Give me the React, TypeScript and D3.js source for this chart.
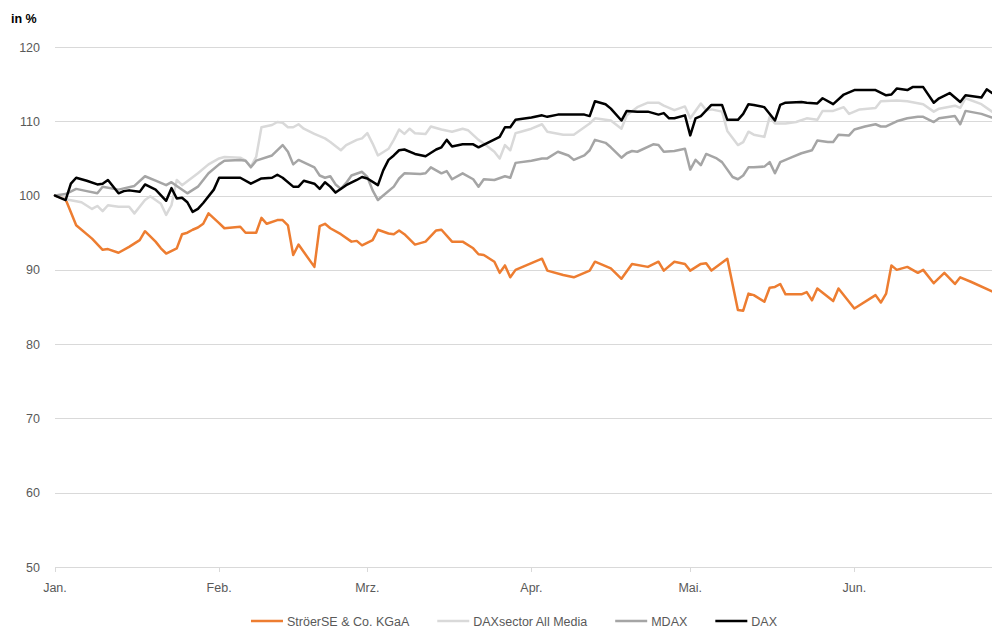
import React, { useEffect, useRef } from 'react';
import { select, scaleTime, scaleLinear, line, timeMonth } from 'd3';

const WIDTH = 992;
const HEIGHT = 627;
const PLOT = { left: 55, right: 992, top: 47, bottom: 567 };

const YEAR = 2019;
const LAST_DAY = 177;
const MONTH_LABELS = ['Jan.', 'Feb.', 'Mrz.', 'Apr.', 'Mai.', 'Jun.'];
const Y_TICKS = [50, 60, 70, 80, 90, 100, 110, 120];

// [days since Jan 1, indexed value in %]
const STROEER = [
  [0, 100], [2, 99.5], [4, 96], [7, 94.2], [9, 92.7], [10, 92.8], [12, 92.3], [14, 93.1], [16, 94], [17, 95.2],
  [19, 93.8], [20, 92.9], [21, 92.2], [23, 92.9], [24, 94.8], [25, 95], [26, 95.4], [27, 95.7], [28, 96.2], [29, 97.6],
  [31, 96.3], [32, 95.6], [35, 95.8], [36, 95], [38, 95], [39, 97], [40, 96.2], [42, 96.7], [43, 96.7], [44, 96],
  [45, 92], [46, 93.4], [49, 90.4], [50, 95.9], [51, 96.2], [52, 95.6], [54, 94.8], [56, 93.8], [57, 93.9], [58, 93.3],
  [60, 94], [61, 95.4], [63, 94.9], [64, 94.8], [65, 95.3], [66, 94.8], [68, 93.4], [70, 93.8], [72, 95.3], [73, 95.4],
  [75, 93.8], [77, 93.8], [79, 92.9], [80, 92.1], [81, 92], [83, 91.1], [84, 89.6], [85, 90.6], [86, 89], [87, 90],
  [92, 91.5], [93, 89.9], [96, 89.3], [98, 89], [101, 89.9], [102, 91.1], [105, 90.2], [107, 88.8], [109, 90.8], [112, 90.4],
  [114, 91.1], [115, 89.9], [117, 91.1], [119, 90.8], [120, 89.9], [122, 90.8], [123, 90.9], [124, 89.9], [127, 91.5], [129, 84.6],
  [130, 84.5], [131, 86.8], [132, 86.6], [134, 85.7], [135, 87.6], [136, 87.7], [137, 88.1], [138, 86.7], [141, 86.7], [142, 87],
  [143, 85.9], [144, 87.5], [147, 85.8], [148, 87.5], [151, 84.8], [155, 86.6], [156, 85.6], [157, 86.8], [158, 90.6], [159, 90],
  [161, 90.4], [163, 89.6], [164, 90], [166, 88.2], [168, 89.6], [170, 88.1], [171, 89], [173, 88.4], [177, 87.1],
];

const MEDIA = [
  [0, 100], [2, 99.5], [5, 99.1], [7, 98.2], [8, 98.6], [9, 97.9], [10, 98.7], [12, 98.5], [14, 98.5], [15, 97.6],
  [17, 99.4], [18, 99.9], [20, 98.9], [21, 97.4], [22, 98.7], [23, 102.1], [24, 101.4], [27, 103], [29, 104.2], [31, 105],
  [32, 105.2], [35, 105.1], [36, 104.7], [37, 103.9], [38, 105.2], [39, 109.2], [41, 109.5], [42, 109.9], [43, 109.8], [44, 109.2],
  [45, 109.2], [46, 109.6], [47, 109], [49, 108.3], [51, 107.7], [52, 107.2], [54, 106.1], [55, 106.8], [57, 107.5], [58, 107.7],
  [59, 108.4], [60, 107], [61, 105.4], [63, 106.3], [64, 107.5], [65, 108.9], [66, 108.3], [67, 109], [68, 108.4], [70, 108.3],
  [71, 109.3], [73, 108.9], [75, 108.6], [77, 109], [78, 108.8], [80, 107.5], [81, 107], [83, 105.9], [84, 105], [85, 106.8],
  [86, 106.1], [87, 108.4], [88, 108.6], [90, 109], [92, 109.6], [93, 108.6], [96, 108.2], [98, 108.2], [100, 109.2], [101, 109.7],
  [102, 110.4], [104, 110.2], [105, 110.1], [107, 109], [108, 110.8], [110, 111.9], [112, 112.5], [114, 112.5], [115, 112.1], [117, 111.5],
  [119, 112], [120, 110.4], [122, 112.4], [123, 111.5], [124, 111.6], [126, 111.3], [127, 108.7], [129, 106.8], [130, 107.2], [131, 108.6],
  [132, 108.2], [134, 107.9], [135, 110.6], [136, 109.7], [138, 109.7], [140, 109.9], [142, 110.4], [144, 110.2], [145, 111.4], [147, 111.4],
  [149, 111.9], [150, 111], [152, 111.6], [155, 111.8], [156, 112.7], [159, 112.8], [161, 112.7], [164, 112.3], [166, 111.3], [167, 111.7],
  [170, 112.1], [171, 111.8], [172, 113.1], [175, 112.3], [177, 111.3],
];

const MDAX = [
  [0, 100], [2, 100.2], [4, 100.9], [6, 100.6], [8, 100.3], [9, 101.2], [12, 100.8], [15, 101.3], [17, 102.6], [19, 102],
  [21, 101.4], [22, 101.8], [23, 101.3], [25, 100.3], [27, 101.2], [29, 103], [31, 104.2], [32, 104.7], [35, 104.8], [36, 104.7],
  [37, 103.8], [38, 104.7], [41, 105.4], [43, 106.8], [44, 105.9], [45, 104.2], [46, 104.8], [49, 103.8], [50, 102.7], [51, 102.4],
  [52, 102.6], [53, 101.5], [54, 100.9], [55, 101.7], [56, 102.7], [58, 103.2], [59, 102.5], [60, 100.7], [61, 99.4], [62, 100],
  [64, 101.2], [65, 102.3], [66, 103], [69, 102.9], [70, 103], [71, 103.8], [73, 103], [74, 103.3], [75, 102.2], [77, 103],
  [79, 102.2], [80, 101.2], [81, 102.2], [83, 102.1], [85, 102.6], [86, 102.4], [87, 104.4], [90, 104.7], [92, 105], [93, 105],
  [95, 105.9], [97, 105.4], [98, 104.8], [100, 105.4], [101, 106.1], [102, 107.5], [104, 107.1], [105, 106.5], [107, 105.1], [108, 105.7],
  [109, 106], [110, 105.9], [113, 106.9], [114, 106.8], [115, 105.9], [117, 106], [119, 106.3], [120, 103.5], [121, 104.8], [122, 104.1],
  [123, 105.6], [125, 105], [126, 104.5], [128, 102.5], [129, 102.2], [130, 102.7], [131, 103.8], [132, 103.8], [134, 103.9], [135, 104.5],
  [136, 103], [137, 104.5], [139, 105.1], [141, 105.7], [143, 106.1], [144, 107.4], [146, 107.2], [147, 107.2], [148, 108.2], [150, 108.1],
  [151, 108.9], [153, 109.3], [155, 109.6], [156, 109.3], [157, 109.3], [159, 110], [161, 110.4], [163, 110.6], [164, 110.6], [166, 109.9],
  [167, 110.4], [170, 110.7], [171, 109.6], [172, 111.4], [175, 111], [177, 110.5],
];

const DAX = [
  [0, 100], [2, 99.4], [3, 101.6], [4, 102.4], [6, 102], [8, 101.5], [9, 101.6], [10, 102.1], [12, 100.3], [13, 100.6],
  [14, 100.7], [16, 100.5], [17, 101.5], [19, 100.8], [21, 99.3], [22, 101], [23, 99.6], [24, 99.7], [25, 99.1], [26, 97.8],
  [27, 98.2], [28, 99], [30, 100.8], [31, 102.4], [35, 102.4], [37, 101.6], [39, 102.3], [41, 102.4], [42, 102.8], [43, 102.4],
  [45, 101.2], [46, 101.2], [47, 102], [49, 101.6], [50, 100.9], [51, 101.8], [52, 101.2], [53, 100.4], [55, 101.4], [57, 102.1],
  [58, 102.5], [59, 102.3], [61, 101.4], [62, 103.4], [63, 104.8], [64, 105.4], [65, 106.1], [66, 106.2], [68, 105.6], [70, 105.3],
  [72, 106.2], [73, 106.5], [74, 107.5], [75, 106.6], [77, 106.9], [79, 106.9], [80, 106.5], [82, 107.2], [84, 107.9], [85, 109.2],
  [86, 109.2], [87, 110.2], [90, 110.5], [92, 110.8], [93, 110.6], [95, 110.9], [100, 110.9], [101, 110.7], [102, 112.7], [104, 112.3],
  [105, 111.7], [107, 110.1], [108, 111.4], [110, 111.3], [112, 111.3], [114, 110.9], [115, 111.1], [116, 110.4], [117, 110.4], [119, 110.8],
  [120, 108.1], [121, 110.4], [122, 110.7], [124, 112.2], [126, 112.2], [127, 110.2], [129, 110.2], [130, 111], [131, 112.3], [132, 112.2],
  [134, 111.9], [136, 110.1], [137, 112.2], [138, 112.5], [141, 112.6], [142, 112.5], [144, 112.4], [145, 113.1], [147, 112.3], [149, 113.6],
  [151, 114.2], [155, 114.2], [157, 113.5], [158, 113.6], [159, 114.4], [161, 114.2], [162, 114.6], [164, 114.6], [166, 112.5], [167, 113.1],
  [169, 113.8], [171, 112.6], [172, 113.5], [174, 113.3], [175, 113.2], [176, 114.3], [177, 113.8],
];

const SERIES = [
  { name: 'StröerSE & Co. KGaA', data: STROEER, color: '#ED7D31' },
  { name: 'DAXsector All Media', data: MEDIA, color: '#D9D9D9' },
  { name: 'MDAX', data: MDAX, color: '#A5A5A5' },
  { name: 'DAX', data: DAX, color: '#000000' },
];

const FONT = '"Liberation Sans", Arial, sans-serif';
const TEXT_COLOR = '#595959';
const GRID_COLOR = '#D9D9D9';

const toDate = (day) => new Date(YEAR, 0, 1 + day);

export default function App() {
  const svgRef = useRef(null);

  useEffect(() => {
    const svg = select(svgRef.current);
    svg.selectAll('*').remove();

    const xScale = scaleTime()
      .domain([toDate(0), toDate(LAST_DAY)])
      .range([PLOT.left, PLOT.right]);
    const yScale = scaleLinear().domain([50, 120]).range([PLOT.bottom, PLOT.top]);

    // horizontal grid
    svg
      .append('g')
      .selectAll('line')
      .data(Y_TICKS)
      .enter()
      .append('line')
      .attr('x1', PLOT.left)
      .attr('x2', PLOT.right)
      .attr('y1', (d) => Math.round(yScale(d)) + 0.5)
      .attr('y2', (d) => Math.round(yScale(d)) + 0.5)
      .attr('stroke', GRID_COLOR)
      .attr('stroke-width', 1);

    svg
      .append('g')
      .selectAll('text')
      .data(Y_TICKS)
      .enter()
      .append('text')
      .attr('x', 40)
      .attr('y', (d) => yScale(d) + 4.5)
      .attr('text-anchor', 'end')
      .style('font-family', FONT)
      .style('font-size', '12.5px')
      .style('fill', TEXT_COLOR)
      .text((d) => d);

    svg
      .append('text')
      .attr('x', 11)
      .attr('y', 23)
      .style('font-family', FONT)
      .style('font-size', '12.5px')
      .style('font-weight', 'bold')
      .style('fill', '#000')
      .text('in %');

    // x axis ticks + month labels
    const months = timeMonth.range(toDate(0), toDate(LAST_DAY));
    const xAxis = svg.append('g');
    xAxis
      .selectAll('line')
      .data(months)
      .enter()
      .append('line')
      .attr('x1', (d) => Math.round(xScale(d)) + 0.5)
      .attr('x2', (d) => Math.round(xScale(d)) + 0.5)
      .attr('y1', Math.round(yScale(50)))
      .attr('y2', Math.round(yScale(50)) + 5)
      .attr('stroke', GRID_COLOR);
    xAxis
      .selectAll('text')
      .data(months)
      .enter()
      .append('text')
      .attr('x', (d) => xScale(d))
      .attr('y', 592)
      .attr('text-anchor', 'middle')
      .style('font-family', FONT)
      .style('font-size', '12.5px')
      .style('fill', TEXT_COLOR)
      .text((d, i) => MONTH_LABELS[i]);

    // series lines
    const lineGen = line()
      .x((d) => xScale(toDate(d[0])))
      .y((d) => yScale(d[1]));

    SERIES.forEach((s) => {
      svg
        .append('path')
        .datum(s.data)
        .attr('d', lineGen)
        .attr('fill', 'none')
        .attr('stroke', s.color)
        .attr('stroke-width', 2.5)
        .attr('stroke-linejoin', 'round')
        .attr('stroke-linecap', 'round');
    });

    // legend, centred below the plot
    const legend = svg.append('g');
    const items = SERIES.map((s) => {
      const g = legend.append('g');
      g.append('line')
        .attr('x1', 0)
        .attr('x2', 32)
        .attr('y1', 621)
        .attr('y2', 621)
        .attr('stroke', s.color)
        .attr('stroke-width', 2.5);
      const t = g
        .append('text')
        .attr('x', 36)
        .attr('y', 625.5)
        .style('font-family', FONT)
        .style('font-size', '12.5px')
        .style('fill', TEXT_COLOR)
        .text(s.name);
      return { g, w: 36 + t.node().getComputedTextLength() };
    });
    const gap = 28;
    const total = items.reduce((a, it) => a + it.w, 0) + gap * (items.length - 1);
    let x = 514 - total / 2;
    items.forEach((it) => {
      it.g.attr('transform', `translate(${x},0)`);
      x += it.w + gap;
    });
  }, []);

  return (
    <div style={{ position: 'absolute', left: 0, top: 0, background: '#fff' }}>
      <svg ref={svgRef} width={WIDTH} height={HEIGHT} style={{ display: 'block' }} />
    </div>
  );
}
